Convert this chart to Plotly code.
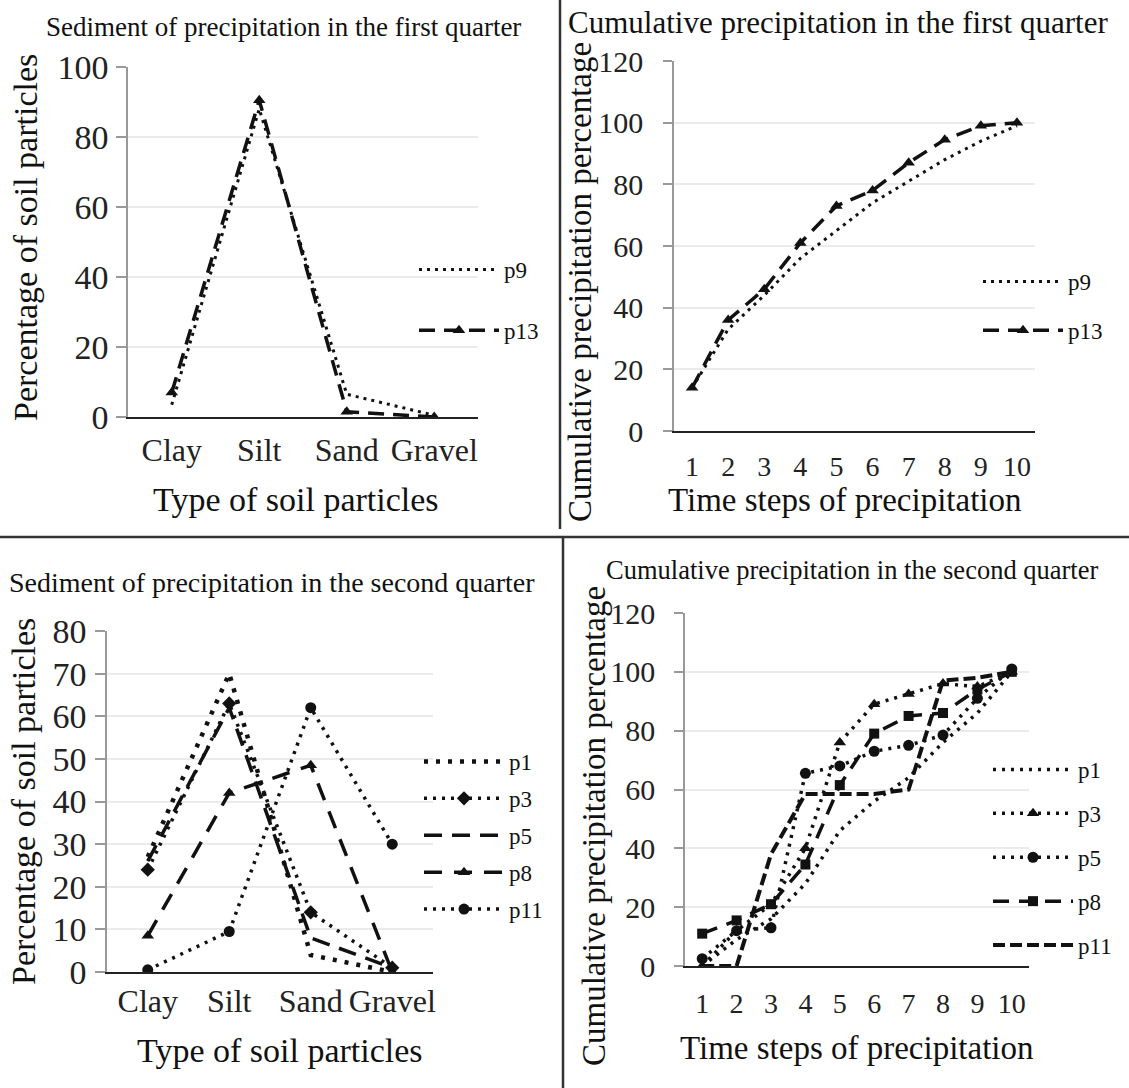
import plotly.graph_objects as go

# ---------------- data ----------------
categories = ["Clay", "Silt", "Sand", "Gravel"]
time_steps = [1, 2, 3, 4, 5, 6, 7, 8, 9, 10]

q1_sed_p9 = [3.5, 88, 6.5, 0.5]
q1_sed_p13 = [7, 90.5, 1.5, 0]

q1_cum_p9 = [14, 33, 44, 56, 65, 74, 81, 88, 94, 99]
q1_cum_p13 = [14, 36, 46, 61, 73, 78, 87, 94.5, 99, 100]

q2_sed_p1 = [27, 70, 4, 0]
q2_sed_p3 = [24, 63, 14, 1]
q2_sed_p5 = [26, 62, 8, 1]
q2_sed_p8 = [8.5, 42, 48.5, 0]
q2_sed_p11 = [0.5, 9.5, 62, 30]

q2_cum_p1 = [0, 9, 16, 28, 46, 56, 64, 76, 86, 100]
q2_cum_p3 = [0, 12, 21, 40, 76, 89, 92.5, 96, 95, 100]
q2_cum_p5 = [2.5, 12, 13, 65.5, 68, 73, 75, 78.5, 91, 101]
q2_cum_p8 = [11, 15.5, 21, 34.5, 61.5, 79, 85, 86, 94, 100]
q2_cum_p11 = [0, 0, 38, 58.5, 58.5, 58.5, 60, 97, 98, 100]

titles = [
    "Sediment of precipitation in the first quarter",
    "Cumulative precipitation in the first quarter",
    "Sediment of precipitation in the second quarter",
    "Cumulative precipitation in the second quarter",
]
xtitle_sed = "Type of soil particles"
xtitle_cum = "Time steps of precipitation"
ytitle_sed = "Percentage of soil particles"
ytitle_cum = "Cumulative precipitation percentage"

# ---------------- styling ----------------
W, H = 1129, 1088
FONT = "Liberation Serif"
BLACK = "#111111"


def px(x):
    return x / W


def py(y):
    return 1 - y / H


fig = go.Figure()


def add(x, y, name, xa, ya, legend, dash, width=3.5, symbol=None, msize=10):
    mode = "lines+markers" if symbol else "lines"
    fig.add_trace(go.Scatter(
        x=x, y=y, name=name, mode=mode, xaxis=xa, yaxis=ya,
        legend=legend, legendgroup=legend + name,
        line=dict(color=BLACK, width=width, dash=dash),
        marker=dict(symbol=symbol or "circle", size=msize, color=BLACK),
        hoverinfo="x+y+name",
    ))


# Top-left
add(categories, q1_sed_p9, "p9", "x", "y", "legend", "3px,5px", 3)
add(categories, q1_sed_p13, "p13", "x", "y", "legend", "16px,9px", 3.5, "triangle-up", 11)
# Top-right
add(time_steps, q1_cum_p9, "p9", "x2", "y2", "legend2", "3px,5px", 3)
add(time_steps, q1_cum_p13, "p13", "x2", "y2", "legend2", "16px,9px", 3.5, "triangle-up", 11)
# Bottom-left
add(categories, q2_sed_p1, "p1", "x3", "y3", "legend3", "4px,8px", 4.5)
add(categories, q2_sed_p3, "p3", "x3", "y3", "legend3", "3px,6px", 3.5, "diamond", 11)
add(categories, q2_sed_p5, "p5", "x3", "y3", "legend3", "18px,10px", 3.5)
add(categories, q2_sed_p8, "p8", "x3", "y3", "legend3", "18px,12px", 3.5, "triangle-up", 11)
add(categories, q2_sed_p11, "p11", "x3", "y3", "legend3", "3px,6px", 3.5, "circle", 11)
# Bottom-right
add(time_steps, q2_cum_p1, "p1", "x4", "y4", "legend4", "3px,6px", 3.5)
add(time_steps, q2_cum_p3, "p3", "x4", "y4", "legend4", "3px,6px", 3.5, "triangle-up", 11)
add(time_steps, q2_cum_p5, "p5", "x4", "y4", "legend4", "3px,6px", 3.5, "circle", 11)
add(time_steps, q2_cum_p8, "p8", "x4", "y4", "legend4", "16px,10px", 3.5, "square", 10)
add(time_steps, q2_cum_p11, "p11", "x4", "y4", "legend4", "12px,5px", 4)


def yaxis(domain, rng, dtick, anchor, fsize, ticklen, standoff):
    return dict(
        domain=domain, range=rng, dtick=dtick, anchor=anchor,
        showgrid=True, gridcolor="#ebebeb", gridwidth=1.5,
        showline=True, linecolor="#999999", linewidth=1.5,
        ticks="outside", ticklen=ticklen, tickcolor="#999999", tickwidth=1.5,
        zeroline=False, ticklabelstandoff=standoff, automargin=False,
        tickfont=dict(family=FONT, size=fsize, color="#222"),
        fixedrange=True,
    )


def xaxis_cat(domain, anchor, fsize, standoff):
    return dict(
        domain=domain, anchor=anchor, type="category", range=[-0.5, 3.5],
        showgrid=False, showline=True, linecolor="#222", linewidth=2,
        ticks="", zeroline=False, ticklabelstandoff=standoff, automargin=False,
        tickfont=dict(family=FONT, size=fsize, color="#222"),
        fixedrange=True,
    )


def xaxis_num(domain, anchor, fsize, standoff):
    return dict(
        domain=domain, anchor=anchor, range=[0.5, 10.5], dtick=1,
        showgrid=False, showline=True, linecolor="#222", linewidth=2,
        ticks="", zeroline=False, ticklabelstandoff=standoff, automargin=False,
        tickfont=dict(family=FONT, size=fsize, color="#222"),
        fixedrange=True,
    )


# plot rectangles (pixel coordinates of the reference): left, right, top, bottom
TL = (128, 478, 67, 417)
TR = (674, 1035, 61, 431)
BL = (107, 433, 631, 972)
BR = (685, 1029, 613, 966)

fig.update_layout(
    width=W, height=H,
    margin=dict(l=0, r=0, t=0, b=0, pad=0, autoexpand=False),
    paper_bgcolor="white", plot_bgcolor="white",
    font=dict(family=FONT, color="#111"),
    xaxis=xaxis_cat([px(TL[0]), px(TL[1])], "y", 32, 4),
    yaxis=yaxis([py(TL[3]), py(TL[2])], [0, 100], 20, "x", 34, 10, 1),
    xaxis2=xaxis_num([px(TR[0]), px(TR[1])], "y2", 28, 9),
    yaxis2=yaxis([py(TR[3]), py(TR[2])], [0, 120], 20, "x2", 30, 9, 14),
    xaxis3=xaxis_cat([px(BL[0]), px(BL[1])], "y3", 32, 0),
    yaxis3=yaxis([py(BL[3]), py(BL[2])], [0, 80], 10, "x3", 34, 10, 2),
    xaxis4=xaxis_num([px(BR[0]), px(BR[1])], "y4", 28, 11),
    yaxis4=yaxis([py(BR[3]), py(BR[2])], [0, 120], 20, "x4", 30, 9, 13),
    showlegend=True,
)

legfont = dict(family=FONT, size=23, color="#111")


def leg(x, y, gap):
    return dict(x=px(x), y=py(y), xanchor="left", yanchor="top",
                itemwidth=80, font=legfont, tracegroupgap=gap,
                bgcolor="rgba(0,0,0,0)", itemclick=False, itemdoubleclick=False)


fig.update_layout(
    legend=leg(414, 248, 28),
    legend2=leg(978, 260, 16),
    legend3=leg(419, 740, 4),
    legend4=leg(988, 748, 11),
)

# titles and axis titles
ann = [
    (titles[0], 283, 27, 27, 0),
    (titles[1], 838, 22, 31, 0),
    (titles[2], 272, 582, 28, 0),
    (titles[3], 852, 570, 26.5, 0),
    (xtitle_sed, 296, 500, 34, 0),
    (xtitle_cum, 845, 500, 33, 0),
    (xtitle_sed, 280, 1050, 34, 0),
    (xtitle_cum, 857, 1048, 33, 0),
    (ytitle_sed, 25, 238, 34, -90),
    (ytitle_cum, 580, 282, 33, -90),
    (ytitle_sed, 23, 802, 34, -90),
    (ytitle_cum, 594, 826, 33, -90),
]
for text, x, y, size, ang in ann:
    fig.add_annotation(
        text=text, x=px(x), y=py(y), xref="paper", yref="paper",
        xanchor="center", yanchor="middle", showarrow=False, textangle=ang,
        font=dict(family=FONT, size=size, color="#111"),
    )

# panel divider lines
for x0, y0, x1, y1 in [(560, 0, 560, 529), (0, 537, W, 537), (563, 537, 563, H)]:
    fig.add_shape(type="line", xref="paper", yref="paper",
                  x0=px(x0), y0=py(y0), x1=px(x1), y1=py(y1),
                  line=dict(color="#333", width=2.5))

fig.write_html("out.html", config={"displayModeBar": False},
               post_script="document.body.style.margin='0px';")
